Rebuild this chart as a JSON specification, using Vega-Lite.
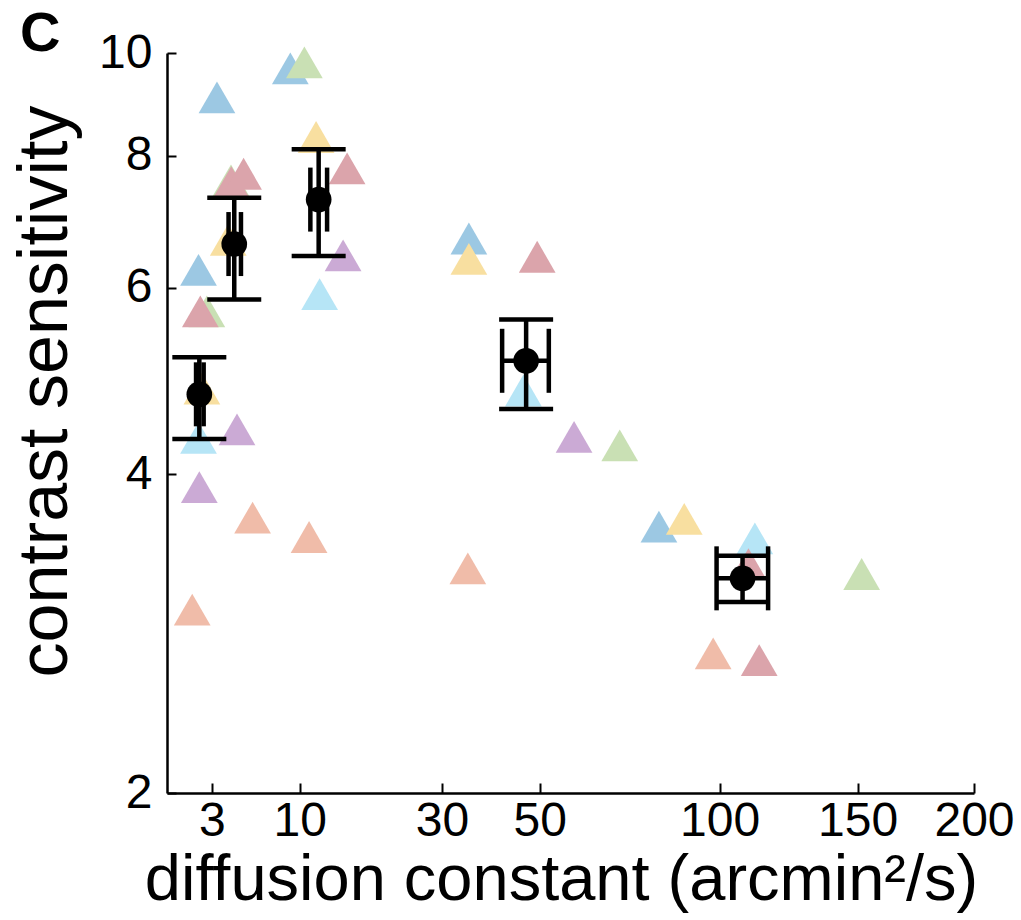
{
  "$schema": "https://vega.github.io/schema/vega-lite/v6.json",
  "width": 807,
  "height": 740,
  "autosize": {"type": "none"},
  "padding": {"left": 167, "top": 53, "right": 47, "bottom": 127},
  "background": "white",
  "title": {"text": "C", "anchor": "start", "frame": "group", "fontSize": 56, "fontWeight": "bold", "font": "Liberation Sans", "color": "black", "dx": -147, "dy": 78, "offset": 0, "baseline": "alphabetic"},
  "config": {
    "view": {"stroke": null},
    "axis": {"grid": false, "domainColor": "black", "domainWidth": 2.5, "tickColor": "black", "tickWidth": 2, "labelFont": "Liberation Sans", "titleFont": "Liberation Sans", "labelColor": "black", "titleColor": "black", "titleFontWeight": "normal"}
  },
  "datasets": {
    "subjects": [
      {"subject": "S1", "d": 3.29, "cs": 9.08},
      {"subject": "S1", "d": 9.05, "cs": 9.67},
      {"subject": "S1", "d": 2.29, "cs": 6.24},
      {"subject": "S1", "d": 35.0, "cs": 6.68},
      {"subject": "S1", "d": 81.2, "cs": 3.57},
      {"subject": "S5", "d": 12.15, "cs": 5.92},
      {"subject": "S5", "d": 2.29, "cs": 4.33},
      {"subject": "S5", "d": 46.3, "cs": 4.80},
      {"subject": "S5", "d": 111.8, "cs": 3.48},
      {"subject": "S6", "d": 14.96, "cs": 6.44},
      {"subject": "S6", "d": 4.58, "cs": 4.41},
      {"subject": "S6", "d": 2.33, "cs": 3.89},
      {"subject": "S6", "d": 58.2, "cs": 4.34},
      {"subject": "S7", "d": 5.73, "cs": 3.64},
      {"subject": "S7", "d": 10.98, "cs": 3.49},
      {"subject": "S7", "d": 34.8, "cs": 3.26},
      {"subject": "S7", "d": 1.99, "cs": 2.98},
      {"subject": "S7", "d": 97.9, "cs": 2.71},
      {"subject": "S2", "d": 10.48, "cs": 9.80},
      {"subject": "S2", "d": 4.17, "cs": 7.58},
      {"subject": "S2", "d": 2.72, "cs": 5.70},
      {"subject": "S2", "d": 70.1, "cs": 4.26},
      {"subject": "S2", "d": 151.6, "cs": 3.22},
      {"subject": "S3", "d": 11.75, "cs": 8.33},
      {"subject": "S3", "d": 3.99, "cs": 6.66},
      {"subject": "S3", "d": 35.0, "cs": 6.39},
      {"subject": "S3", "d": 2.46, "cs": 4.82},
      {"subject": "S3", "d": 88.8, "cs": 3.63},
      {"subject": "S4", "d": 4.19, "cs": 7.55},
      {"subject": "S4", "d": 5.05, "cs": 7.69},
      {"subject": "S4", "d": 15.47, "cs": 7.78},
      {"subject": "S4", "d": 49.4, "cs": 6.42},
      {"subject": "S4", "d": 2.38, "cs": 5.70},
      {"subject": "S4", "d": 109.6, "cs": 3.29},
      {"subject": "S4", "d": 113.3, "cs": 2.67}
    ],
    "means": [
      {"d": 2.33, "d_lo": 2.17, "d_hi": 2.55, "cs": 4.76, "cs_lo": 4.32, "cs_hi": 5.16},
      {"d": 4.39, "d_lo": 4.01, "d_hi": 4.86, "cs": 6.60, "cs_lo": 5.85, "cs_hi": 7.30},
      {"d": 12.04, "d_lo": 11.12, "d_hi": 13.01, "cs": 7.27, "cs_lo": 6.43, "cs_hi": 8.11},
      {"d": 46.9, "d_lo": 41.7, "d_hi": 52.1, "cs": 5.12, "cs_lo": 4.61, "cs_hi": 5.60},
      {"d": 107.6, "d_lo": 99.0, "d_hi": 116.4, "cs": 3.19, "cs_lo": 3.03, "cs_hi": 3.35}
    ]
  },
  "encoding": {
    "x": {"field": "d", "type": "quantitative",
      "scale": {"type": "sqrt", "domain": [1, 200], "zero": false, "nice": false},
      "axis": {"values": [3, 10, 30, 50, 100, 150, 200], "title": "diffusion constant (arcmin²/s)", "labelFontSize": 48, "titleFontSize": 65, "tickSize": -10, "labelPadding": 14, "titleX": 394, "titleY": 106, "titleBaseline": "alphabetic", "titleAnchor": "middle", "labelFlush": false}},
    "y": {"field": "cs", "type": "quantitative",
      "scale": {"type": "log", "domain": [2, 10], "nice": false},
      "axis": {"values": [2, 4, 6, 8, 10], "title": "contrast sensitivity", "labelFontSize": 48, "titleFontSize": 70, "tickSize": -9, "labelPadding": 24, "titleX": -86, "titleY": 338, "titleBaseline": "bottom", "titleAnchor": "middle", "labelFlush": false}}
  },
  "layer": [
    {
      "data": {"name": "subjects"},
      "mark": {"type": "point", "shape": "triangle-up", "filled": true, "size": 1350, "opacity": 1},
      "encoding": {
        "color": {"field": "subject", "type": "nominal", "legend": null,
          "scale": {"domain": ["S1", "S2", "S3", "S4", "S5", "S6", "S7"], "range": ["#9cc8e3", "#c9e0b4", "#f8dfa0", "#dba4ab", "#b6e5f6", "#cbaad5", "#f0bca9"]}}
      }
    },
    {
      "data": {"name": "means"},
      "mark": {"type": "rule", "color": "black", "strokeWidth": 4.5},
      "encoding": {"y": {"field": "cs_lo", "type": "quantitative"}, "y2": {"field": "cs_hi"}}
    },
    {
      "data": {"name": "means"},
      "mark": {"type": "rule", "color": "black", "strokeWidth": 4.5},
      "encoding": {"x": {"field": "d_lo", "type": "quantitative"}, "x2": {"field": "d_hi"}}
    },
    {
      "data": {"name": "means"},
      "mark": {"type": "tick", "orient": "horizontal", "color": "black", "size": 54, "thickness": 4.5, "opacity": 1},
      "encoding": {"y": {"field": "cs_lo", "type": "quantitative"}}
    },
    {
      "data": {"name": "means"},
      "mark": {"type": "tick", "orient": "horizontal", "color": "black", "size": 54, "thickness": 4.5, "opacity": 1},
      "encoding": {"y": {"field": "cs_hi", "type": "quantitative"}}
    },
    {
      "data": {"name": "means"},
      "mark": {"type": "tick", "orient": "vertical", "color": "black", "size": 64, "thickness": 4.5, "opacity": 1},
      "encoding": {"x": {"field": "d_lo", "type": "quantitative"}}
    },
    {
      "data": {"name": "means"},
      "mark": {"type": "tick", "orient": "vertical", "color": "black", "size": 64, "thickness": 4.5, "opacity": 1},
      "encoding": {"x": {"field": "d_hi", "type": "quantitative"}}
    },
    {
      "data": {"name": "means"},
      "mark": {"type": "point", "shape": "circle", "filled": true, "size": 660, "color": "black", "opacity": 1}
    }
  ]
}
